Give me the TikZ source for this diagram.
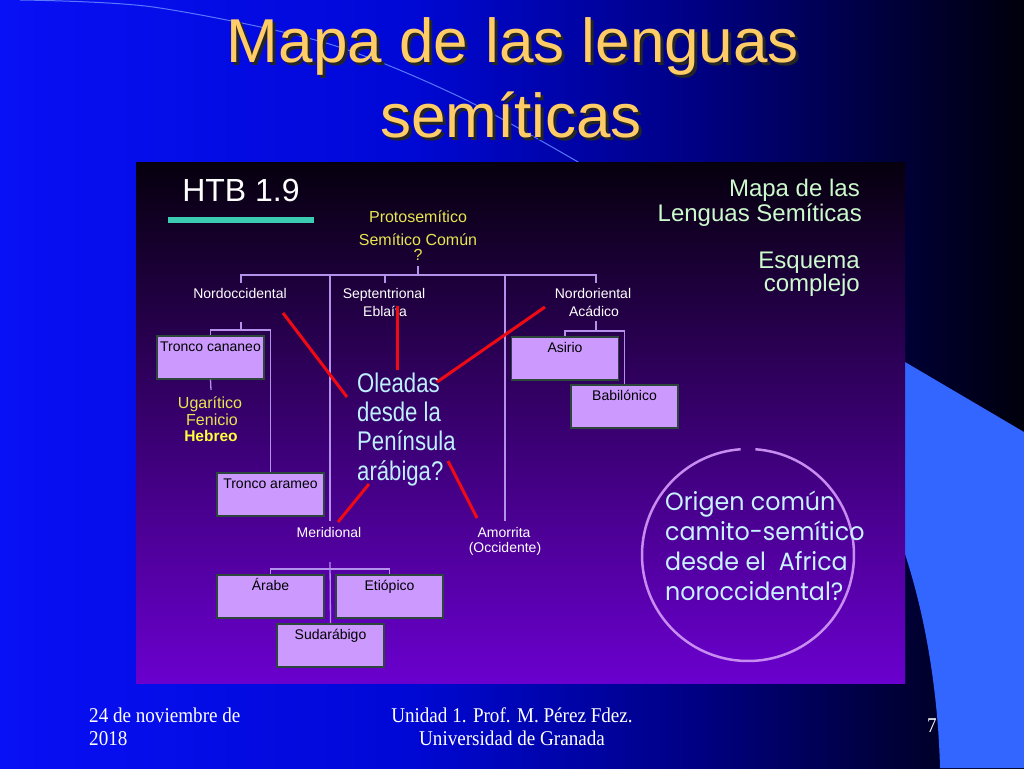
\documentclass[tikz,border=0pt]{standalone}
\usepackage{fontspec}
\setmainfont{Liberation Sans}
\newfontfamily\footfont{Liberation Serif}[FakeStretch=0.91]
\newfontfamily\condfont{Liberation Sans}[FakeStretch=0.82]
\newfontfamily\circfont{Poppins}[FakeStretch=0.95]
\definecolor{bgA}{RGB}{8,16,245}
\definecolor{bgB}{RGB}{0,8,215}
\definecolor{bgC}{RGB}{0,0,130}
\definecolor{bgD}{RGB}{0,0,55}
\definecolor{bgE}{RGB}{0,0,12}
\definecolor{pictop}{RGB}{6,0,14}
\definecolor{picbot}{RGB}{106,0,206}
\definecolor{treec}{RGB}{180,145,235}
\definecolor{boxfill}{RGB}{204,153,255}
\definecolor{boxborder}{RGB}{45,70,60}
\definecolor{redc}{RGB}{240,10,20}
\definecolor{yelc}{RGB}{230,230,80}
\definecolor{yelb}{RGB}{255,255,60}
\definecolor{cyant}{RGB}{190,240,255}
\definecolor{circt}{RGB}{200,242,255}
\definecolor{circl}{RGB}{200,140,240}
\definecolor{titlec}{RGB}{255,204,102}
\definecolor{arcc}{RGB}{90,120,255}
\definecolor{blueshape}{RGB}{51,102,255}
\definecolor{tealc}{RGB}{60,204,180}
\definecolor{paleg}{RGB}{204,250,204}
\begin{document}
\begin{tikzpicture}[x=1pt,y=-1pt,
  tree/.style={draw=treec, line width=1.3pt},
  redl/.style={draw=redc, line width=3pt},
  lbl/.style={text=white, font=\fontsize{14}{16}\selectfont, inner sep=0pt, anchor=base},
  yel/.style={text=yelc, font=\fontsize{16}{18}\selectfont, inner sep=0pt, anchor=base},
  boxn/.style={draw=boxborder, fill=boxfill, line width=1.5pt, minimum width=107pt,
    anchor=north, inner xsep=0pt, inner ysep=3pt, text height=13pt, text depth=24pt,
    font=\fontsize{14}{16}\selectfont, text=black, align=center},
  titletxt/.style={font=\fontsize{62}{74}\selectfont, inner sep=0pt, anchor=base},
  foot/.style={font=\footfont\fontsize{21}{23}\selectfont, text=white, inner sep=0pt},
  cent/.style={font=\condfont\fontsize{27}{30}\selectfont, text=cyant, inner sep=0pt, anchor=base west},
  circtxt/.style={font=\circfont\fontsize{25}{30}\selectfont, text=circt, inner sep=0pt, anchor=base west},
  rtxt/.style={font=\fontsize{24}{27}\selectfont, text=paleg, inner sep=0pt, anchor=base east}
]
\useasboundingbox (0,0) rectangle (1024,768);
% slide background
\shade[left color=bgA, right color=bgB] (0,0) rectangle (400.5,768);
\shade[left color=bgB, right color=bgC] (400,0) rectangle (700.5,768);
\shade[left color=bgC, right color=bgD] (700,0) rectangle (900.5,768);
\shade[left color=bgD, right color=bgE] (900,0) rectangle (1024,768);
\draw[arcc, line width=1pt] plot[smooth] coordinates {(20,0) (153,7) (326,43) (460,97) (585,166)};
\fill[blueshape] (905,362) -- (1024,432) -- (1024,768) -- (940,768) .. controls (938,690) and (925,615) .. (905,554) -- cycle;
% title
\node[titletxt, text=black!85] (t1s) at (516,66) {Mapa de las lenguas};
\node[titletxt, text=black!85] (t2s) at (514,140) {semíticas};
\node[titletxt, text=titlec] (t1) at (513,63) {Mapa de las lenguas};
\node[titletxt, text=titlec] (t2) at (511,137) {semíticas};
% picture
\shade[top color=pictop, bottom color=picbot] (136,162) rectangle (905,683);
\node[text=white, font=\fontsize{32}{35}\selectfont, inner sep=0pt, anchor=base] (htb) at (241,201.7) {HTB 1.9};
\fill[tealc] (168,217) rectangle (314,223);
\node[rtxt] (m1) at (860,196) {Mapa de las};
\node[rtxt] (m2) at (862,221.7) {Lenguas Semíticas};
\node[rtxt] (e1) at (860,268) {Esquema};
\node[rtxt] (e2) at (860,291) {complejo};
% root
\node[yel] (p1) at (418,222.5) {Protosemítico};
\node[yel] (p2) at (418,245) {Semítico Común};
\node[yel] (p3) at (418,260.5) {?};
\node[lbl] (nocc) at (240,298) {Nordoccidental};
\node[lbl] (sept) at (384,298) {Septentrional};
\node[lbl] (ebla) at (385,316) {Eblaíta};
\node[lbl] (nori) at (593,298) {Nordoriental};
\node[lbl] (acad) at (594,316) {Acádico};
\node[lbl] (meri) at (329,537) {Meridional};
\node[lbl] (amor) at (504,537) {Amorrita};
\node[lbl] (occi) at (505,552) {(Occidente)};
\node[yel] (ugar) at (210,408) {Ugarítico};
\node[yel] (feni) at (212,425) {Fenicio};
\node[yel, text=yelb, font=\bfseries\fontsize{15.5}{17}\selectfont] (hebr) at (211,441) {Hebreo};
% boxes
\node[boxn] (tc) at (210.5,335) {Tronco cananeo};
\node[boxn] (ta) at (270.5,472) {Tronco arameo};
\node[boxn] (asi) at (565,336) {Asirio};
\node[boxn] (bab) at (624.5,384) {Babilónico};
\node[boxn] (ara) at (270.5,574) {Árabe};
\node[boxn] (eti) at (389.5,574) {Etiópico};
\node[boxn] (sud) at (330.5,623) {Sudarábigo};
% tree coordinates
\coordinate (root) at (418,266);
\coordinate (j0) at (418,275);
\coordinate (tNocc) at (241,283);
\coordinate (tSep) at (385,283);
\coordinate (tNor) at (596,283);
\coordinate (vMer) at (330,521);
\coordinate (vAmo) at (505,521);
\coordinate (sNocc) at (241,322);
\coordinate (jN) at (241,330);
\coordinate (ugtop) at (211,390);
\coordinate (sNor) at (596,321);
\coordinate (jE) at (596,331);
\coordinate (sMer) at (330,562);
\coordinate (jM) at (330,569);
% tree lines
\draw[tree] (root) -- (j0);
\draw[tree] (tNocc) -- (tNocc |- j0) -- (tNor |- j0) -- (tNor);
\draw[tree] (tSep) -- (tSep |- j0);
\draw[tree] (vMer) -- (vMer |- j0);
\draw[tree] (vAmo) -- (vAmo |- j0);
\draw[tree] (sNocc) -- (jN);
\draw[tree] (tc.north) |- (jN) -| (ta.north);
\draw[tree] (tc.south) -- (ugtop);
\draw[tree] (sNor) -- (jE);
\draw[tree] (asi.north) |- (jE) -| (bab.north);
\draw[tree] (sMer) -- (sud.north);
\draw[tree] (ara.north) |- (jM) -| (eti.north);
% central text
\node[cent] (c1) at (357,392) {Oleadas};
\node[cent] (c2) at (357,421.3) {desde la};
\node[cent] (c3) at (357,450.6) {Península};
\node[cent] (c4) at (357,480) {arábiga?};
% red lines
\coordinate (r1a) at (283,313); \coordinate (r1b) at (347,397);
\coordinate (r2a) at (397,306); \coordinate (r2b) at (397,370);
\coordinate (r3a) at (545,307); \coordinate (r3b) at (437,382);
\coordinate (r4a) at (369,484); \coordinate (r4b) at (338,522);
\coordinate (r5a) at (448,461); \coordinate (r5b) at (477,518);
\draw[redl] (r1a) -- (r1b);
\draw[redl] (r2a) -- (r2b);
\draw[redl] (r3a) -- (r3b);
\draw[redl] (r4a) -- (r4b);
\draw[redl] (r5a) -- (r5b);
% circle
\coordinate (circc) at (748,555);
\draw[circl, line width=2.5pt] (circc) ++(-86:106) arc[start angle=-86, end angle=266, radius=106];
\node[circtxt] (o1) at (665,510) {Origen común};
\node[circtxt] (o2) at (665,540) {camito-semítico};
\node[circtxt] (o3) at (665,570) {desde el~ Africa};
\node[circtxt] (o4) at (665,600) {noroccidental?};
% footer
\node[foot, anchor=base west] (f1) at (89,722) {24 de noviembre de};
\node[foot, anchor=base west] (f2) at (89,745) {2018};
\node[foot, anchor=base] (f3) at (512,722) {Unidad 1. Prof. M. Pérez Fdez.};
\node[foot, anchor=base] (f4) at (512,745) {Universidad de Granada};
\node[foot, anchor=base] (f5) at (932,732) {7};
\end{tikzpicture}
\end{document}
